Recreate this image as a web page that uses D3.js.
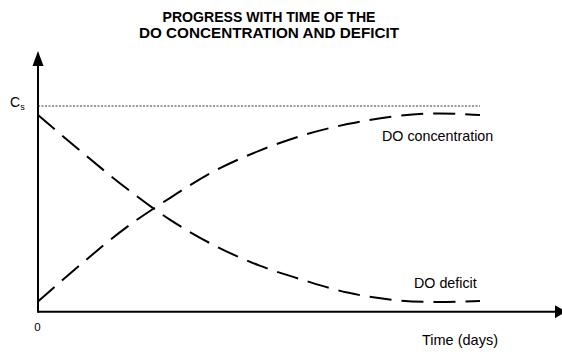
<!DOCTYPE html>
<html>
<head>
<meta charset="utf-8">
<script src="https://cdn.jsdelivr.net/npm/d3@7"></script>
<style>
  body { margin: 0; background: #fff; }
  text { font-family: "Liberation Sans", Arial, sans-serif; fill: #000; }
  .title { font-weight: bold; font-size: 15.5px; }
</style>
</head>
<body>
<svg id="mainSvg" width="562" height="352"></svg>
<script>
// time in days
var days = [0, 1, 2, 3, 4, 5, 6, 7, 8, 9, 10];
// DO concentration and deficit, Cs = 10
var doConc    = [0.49, 2.36, 4.10, 5.55, 6.85, 7.82, 8.58, 9.12, 9.48, 9.64, 9.56];
var doDeficit = [9.56, 7.74, 6.00, 4.45, 3.21, 2.25, 1.54, 0.93, 0.58, 0.47, 0.52];
var csLevel = 10;
var titleLines = ["PROGRESS WITH TIME OF THE", "DO CONCENTRATION AND DEFICIT"];
var titleWidths = [213, 260];
var seriesLabels = ["DO concentration", "DO deficit"];

var svg = d3.select("#mainSvg");

var x = d3.scaleLinear().domain([0, 10]).range([38, 480]);
var y = d3.scaleLinear().domain([0, 10]).range([311.7, 106]);

// title (narrow bold face)
svg.selectAll(".title")
  .data(titleLines)
  .enter()
  .append("text")
  .attr("class", "title")
  .attr("x", 269)
  .attr("y", function (d, i) { return 21.5 + i * 16.5; })
  .attr("text-anchor", "middle")
  .attr("textLength", function (d, i) { return titleWidths[i]; })
  .attr("lengthAdjust", "spacingAndGlyphs")
  .text(function (d) { return d; });

// Cs reference line
svg.append("line")
  .attr("x1", x(0)).attr("x2", x(10))
  .attr("y1", y(csLevel)).attr("y2", y(csLevel))
  .attr("stroke", "#000")
  .attr("stroke-width", 0.8)
  .attr("stroke-dasharray", "2,1.5");

var csLabel = svg.append("text")
  .attr("x", 10)
  .attr("y", y(csLevel) + 1)
  .style("font-size", "14px")
  .text("C");
csLabel.append("tspan")
  .attr("dy", 3)
  .style("font-size", "9px")
  .text("s");

// x axis (only the origin label)
var xAxis = d3.axisBottom(x).tickValues([0]).tickSize(0).tickPadding(11).tickFormat(d3.format("d"));
var gx = svg.append("g")
  .attr("transform", "translate(0," + y(0) + ")")
  .call(xAxis);
gx.select(".domain").remove();
gx.selectAll("text")
  .style("font-family", "Liberation Sans, Arial, sans-serif")
  .style("font-size", "11.5px")
  .attr("dx", -1);

// axis lines with arrowheads
svg.append("line")
  .attr("x1", x(0)).attr("x2", 556)
  .attr("y1", y(0)).attr("y2", y(0))
  .attr("stroke", "#000").attr("stroke-width", 2);
svg.append("path")
  .attr("d", "M555," + (y(0) - 6.5) + "L566," + y(0) + "L555," + (y(0) + 6.5) + "Z")
  .attr("fill", "#000");

svg.append("line")
  .attr("x1", x(0)).attr("x2", x(0))
  .attr("y1", y(0) + 1).attr("y2", 64)
  .attr("stroke", "#000").attr("stroke-width", 2);
svg.append("path")
  .attr("d", "M" + (x(0) - 5.5) + ",66L" + x(0) + ",51L" + (x(0) + 5.5) + ",66Z")
  .attr("fill", "#000");

svg.append("text")
  .attr("x", 460)
  .attr("y", 345)
  .attr("text-anchor", "middle")
  .style("font-size", "14.5px")
  .text("Time (days)");

// curves
var line = d3.line()
  .x(function (d, i) { return x(days[i]); })
  .y(function (d) { return y(d); })
  .curve(d3.curveCatmullRom.alpha(0.5));

[doConc, doDeficit].forEach(function (s) {
  svg.append("path")
    .attr("d", line(s))
    .attr("fill", "none")
    .attr("stroke", "#000")
    .attr("stroke-width", 2)
    .attr("stroke-dasharray", "22,10");
});

svg.append("text")
  .attr("x", 382).attr("y", 141)
  .style("font-size", "14.3px")
  .text(seriesLabels[0]);
svg.append("text")
  .attr("x", 414).attr("y", 288)
  .style("font-size", "14.3px")
  .text(seriesLabels[1]);
</script>
</body>
</html>
